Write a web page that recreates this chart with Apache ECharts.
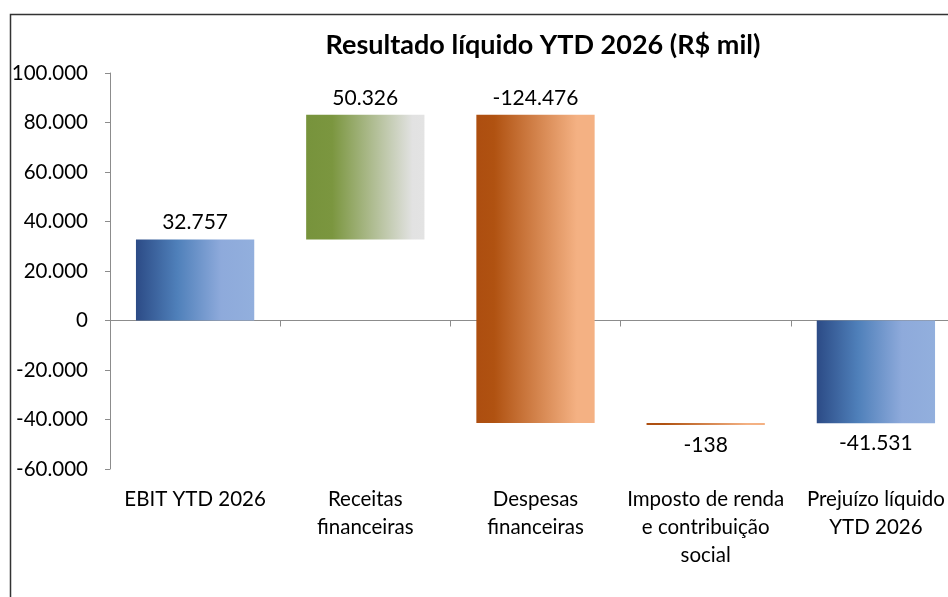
<!DOCTYPE html>
<html>
<head>
<meta charset="utf-8">
<script src="https://cdn.jsdelivr.net/npm/echarts@6/dist/echarts.min.js"></script>
<style>
html, body { margin: 0; padding: 0; background: #fff; }
#waterfall { width: 948px; height: 597px; }
</style>
</head>
<body>
<div id="waterfall"></div>
<script>
// categorias do eixo X
var categories = ['EBIT YTD 2026', 'Receitas\nfinanceiras', 'Despesas\nfinanceiras', 'Imposto de renda\ne contribuição\nsocial', 'Prejuízo líquido\nYTD 2026'];
// variação de cada barra (R$ mil)
var deltas = [32757, 50326, -124476, -138, -41531];
// true = barra de total (parte do zero)
var isTotal = [true, false, false, false, true];
// tipo de cor: total / positivo / negativo
var colorKind = ['total', 'pos', 'neg', 'neg', 'total'];
// escala do eixo Y
var yMin = -60000, yMax = 100000, yStep = 20000;

var fontName = 'Lato';

function grad(stops) {
	return new echarts.graphic.LinearGradient(0, 0, 1, 0, stops);
}
var fills = {
	total: grad([
		{ offset: 0, color: '#2c4b86' },
		{ offset: 0.35, color: '#4f80ba' },
		{ offset: 0.72, color: '#8eaadb' },
		{ offset: 1, color: '#92afdd' }
	]),
	pos: grad([
		{ offset: 0, color: '#77933c' },
		{ offset: 0.22, color: '#7b963f' },
		{ offset: 0.9, color: '#e2e2e2' },
		{ offset: 1, color: '#e3e3e3' }
	]),
	neg: grad([
		{ offset: 0, color: '#ad4e10' },
		{ offset: 0.15, color: '#b05211' },
		{ offset: 0.85, color: '#f4b183' },
		{ offset: 1, color: '#f4b183' }
	])
};

// monta início/fim de cada barra (cascata)
var barData = [];
var running = 0;
for (var i = 0; i < deltas.length; i++) {
	var start, end;
	if (isTotal[i]) {
		start = 0;
		end = deltas[i];
		running = end;
	} else {
		start = running;
		end = running + deltas[i];
		running = end;
	}
	barData.push([i, start, end, deltas[i]]);
}

function fmt(v) {
	var s = Math.abs(v).toString().replace(/\B(?=(\d{3})+(?!\d))/g, '.');
	return (v < 0 ? '-' : '') + s;
}

var myChart = echarts.init(document.getElementById('waterfall'));

var option = {
	animation: false,
	title: {
		text: 'Resultado líquido YTD 2026 (R$ mil)',
		left: 538,
		textAlign: 'center',
		top: 27,
		textStyle: { fontFamily: fontName, fontSize: 27, fontWeight: 'bold', color: '#000' }
	},
	graphic: [{
		type: 'rect',
		left: 8, top: 12,
		shape: { width: 1000, height: 1000 },
		style: { fill: 'none', stroke: '#333', lineWidth: 1.5 },
		z: 100
	}],
	grid: { left: 110, top: 73, width: 851, height: 396, outerBoundsMode: 'none' },
	xAxis: [{
		type: 'category',
		data: categories,
		axisLine: { onZero: true, lineStyle: { color: '#8c8c8c', width: 1 } },
		axisTick: { show: true, length: 6, lineStyle: { color: '#8c8c8c' } },
		axisLabel: { show: false }
	}, {
		type: 'category',
		data: categories,
		position: 'bottom',
		axisLine: { show: false, onZero: false },
		axisTick: { show: false },
		axisLabel: {
			margin: 16,
			interval: 0,
			fontFamily: fontName, fontSize: 20.5, color: '#000', lineHeight: 28
		}
	}],
	yAxis: {
		type: 'value',
		min: yMin, max: yMax, interval: yStep,
		splitLine: { show: false },
		axisLine: { show: true, lineStyle: { color: '#8c8c8c' } },
		axisTick: { show: true, length: 5, lineStyle: { color: '#8c8c8c' } },
		axisLabel: {
			margin: 22,
			fontFamily: fontName, fontSize: 20.5, color: '#000',
			formatter: function (v) { return fmt(v); }
		}
	},
	series: [{
		type: 'custom',
		xAxisIndex: 0,
		data: barData,
		renderItem: function (params, api) {
			var idx = api.value(0);
			var a = api.value(1), b = api.value(2);
			var top = Math.max(a, b), bot = Math.min(a, b);
			var p1 = api.coord([idx, top]);
			var p2 = api.coord([idx, bot]);
			var w = api.size([1, 0])[0] * 0.695;
			var h = Math.max(p2[1] - p1[1], 2);
			var x = p1[0] - w / 2;
			var labelAbove = top > 0;
			return {
				type: 'group',
				children: [{
					type: 'rect',
					shape: { x: x, y: p1[1], width: w, height: h },
					style: { fill: fills[colorKind[idx]] }
				}, {
					type: 'text',
					style: {
						x: p1[0],
						y: labelAbove ? p1[1] - 17 : p1[1] + h + 20,
						text: fmt(api.value(3)),
						align: 'center',
						verticalAlign: 'middle',
						fontFamily: fontName,
						fontSize: 21,
						fill: '#000'
					}
				}]
			};
		}
	}]
};

myChart.setOption(option);
</script>
</body>
</html>
